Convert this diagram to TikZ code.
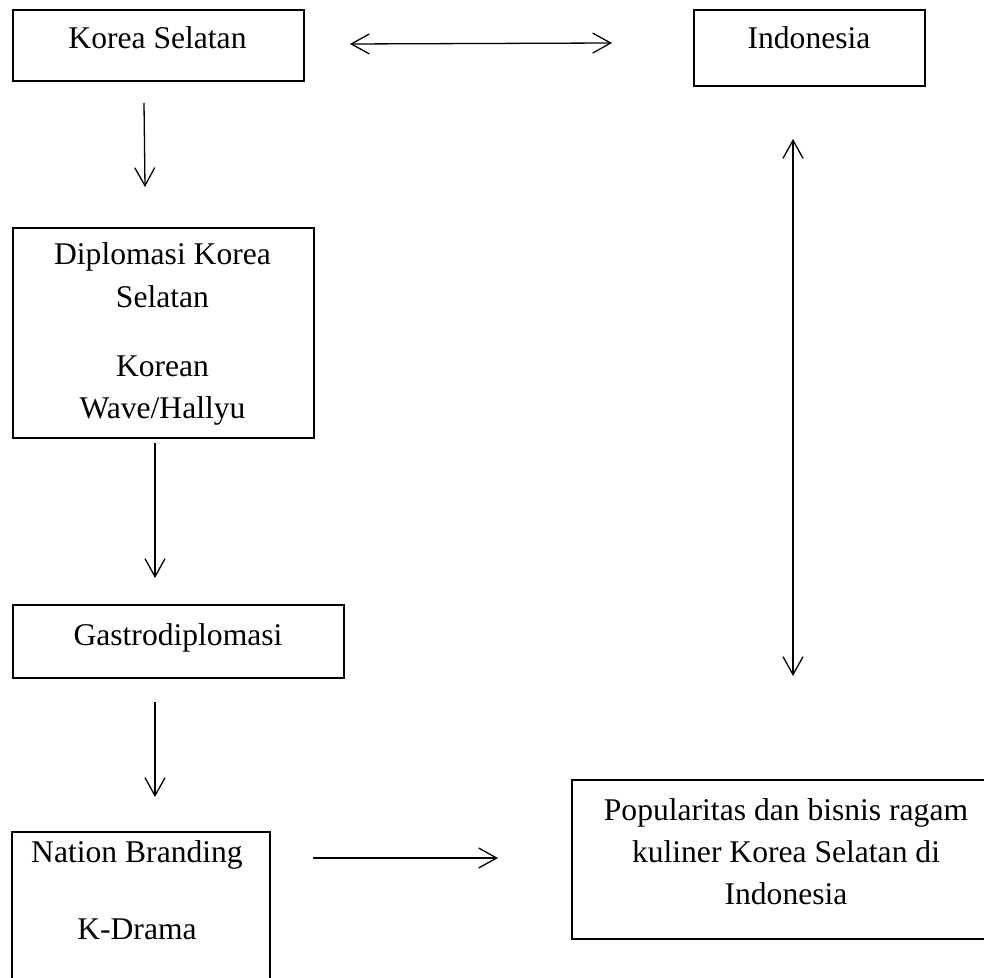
\documentclass[tikz,border=0pt]{standalone}
\usepackage{fontspec}
\setmainfont{Liberation Serif}
\usetikzlibrary{arrows.meta}
\begin{document}
\begin{tikzpicture}[x=0.5pt,y=-0.5pt,
  box/.style={draw=black,line width=0.9pt,rectangle,inner sep=0pt,anchor=north west},
  txt/.style={anchor=base,inner sep=0pt,font=\fontsize{15.8}{21}\selectfont},
  arr/.style={line width=0.65pt,-{Straight Barb[length=9pt,width=10pt,line width=0.65pt]}},
  darr/.style={line width=0.65pt,{Straight Barb[length=9pt,width=10pt,line width=0.65pt]}-{Straight Barb[length=9pt,width=10pt,line width=0.65pt]}}]
\useasboundingbox (0,0) rectangle (984,978);
% boxes
\node[box,minimum width=145.5pt,minimum height=35.5pt] (ks) at (12,9) {};
\node[box,minimum width=115.5pt,minimum height=38pt] (id) at (693,9) {};
\node[box,minimum width=150.5pt,minimum height=105pt] (dk) at (12,227) {};
\node[box,minimum width=165.5pt,minimum height=36.5pt] (gd) at (12,604) {};
\node[box,minimum width=129pt,minimum height=120pt] (nb) at (11,831) {};
\node[box,minimum width=250pt,minimum height=79.5pt] (pk) at (571,779) {};
% texts
\node[txt] (tks) at (157.5,49) {Korea Selatan};
\node[txt] (tid) at (809,49) {Indonesia};
\node[txt] (tdk1) at (162.5,265) {Diplomasi Korea};
\node[txt] (tdk2) at (162.5,308) {Selatan};
\node[txt] (tdk3) at (162.5,377) {Korean};
\node[txt] (tdk4) at (162.5,418) {Wave/Hallyu};
\node[txt] (tgd) at (178,645) {Gastrodiplomasi};
\node[txt] (tnb1) at (137,862) {Nation Branding};
\node[txt] (tnb2) at (137,939) {K-Drama};
\node[txt] (tpk1) at (786,820) {Popularitas dan bisnis ragam};
\node[txt] (tpk2) at (786,862) {kuliner Korea Selatan di};
\node[txt] (tpk3) at (786,904) {Indonesia};
% arrow end points
\coordinate (a1s) at (144,103);
\coordinate (a1e) at (145,187);
\coordinate (a2s) at (155,443);
\coordinate (a2e) at (155,578);
\coordinate (a3s) at (155,702);
\coordinate (a3e) at (155,797);
\coordinate (h1s) at (350,44);
\coordinate (h1e) at (612,43);
\coordinate (v1s) at (793,139);
\coordinate (v1e) at (793,676);
\coordinate (h2s) at (313,858);
\coordinate (h2e) at (498,858);
% connectors
\draw[arr] (a1s) -- (a1e);
\draw[arr] (a2s) -- (a2e);
\draw[arr] (a3s) -- (a3e);
\draw[darr] (h1s) -- (h1e);
\draw[darr] (v1s) -- (v1e);
\draw[arr] (h2s) -- (h2e);
\end{tikzpicture}
\end{document}
